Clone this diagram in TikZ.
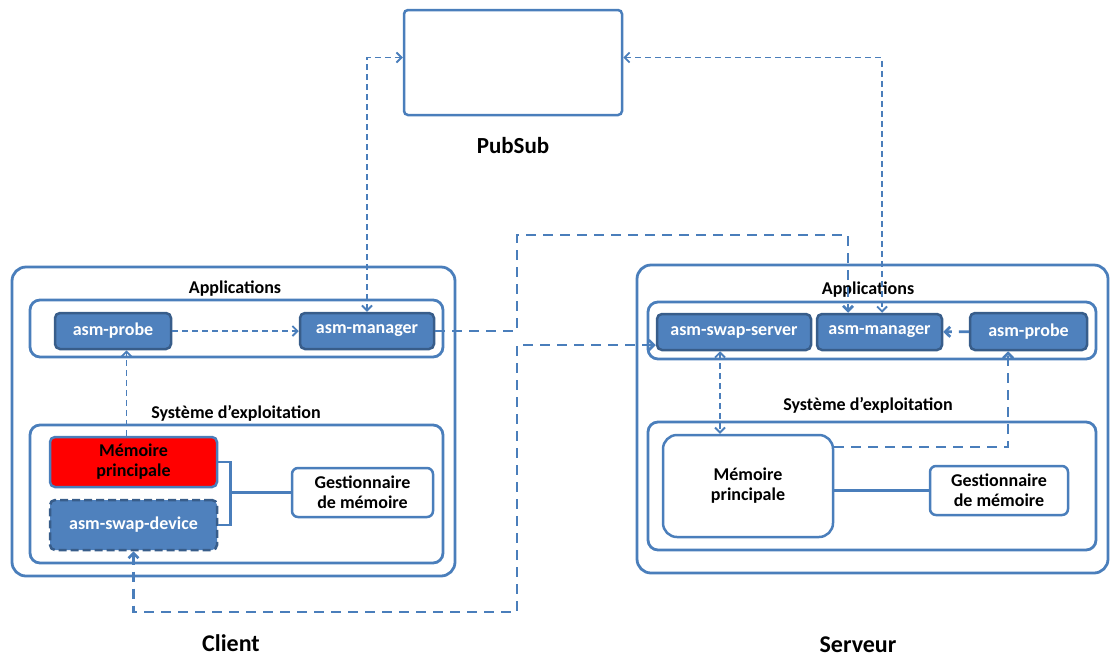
\documentclass[tikz,border=0pt]{standalone}
\usepackage{fontspec}
\setmainfont{Carlito}
\usetikzlibrary{arrows.meta}
\definecolor{lineblue}{RGB}{74,126,187}
\definecolor{modblue}{RGB}{79,129,189}
\definecolor{moddark}{RGB}{56,93,138}

\begin{document}
\begin{tikzpicture}[x=1pt,y=-1pt,
  every node/.style={font=\bfseries\fontsize{18}{20}\selectfont,align=center},
  frame/.style={draw=lineblue,line width=2.8pt,rounded corners=14pt,inner sep=0pt},
  layer/.style={draw=lineblue,line width=2.8pt,rounded corners=10pt,inner sep=0pt},
  module/.style={fill=modblue,draw=moddark,line width=2.5pt,rounded corners=5pt,text=white,inner sep=0pt},
  plainbox/.style={fill=white,draw=lineblue,line width=2.5pt,rounded corners=6pt,inner sep=0pt},
  wire/.style={draw=lineblue,line width=2.5pt},
  link/.style={draw=lineblue,line width=1.8pt,dash pattern=on 6pt off 4pt},
  flow/.style={draw=lineblue,line width=2.8pt,dash pattern=on 10pt off 7pt},
  tip/.style={arrows={-{Straight Barb[length=5pt,width=10pt]}}},
  tips/.style={arrows={{Straight Barb[length=5pt,width=10pt]}-{Straight Barb[length=5pt,width=10pt]}}}
]
\useasboundingbox (0,0) rectangle (1110,657);

\node [plainbox,rounded corners=4pt,minimum width=218pt,minimum height=105pt] (pubsub) at (513,62.5) {};
\node [font=\bfseries\fontsize{23}{25}\selectfont] (pubsublabel) at (513,146) {PubSub};

\node [frame,minimum width=443pt,minimum height=309pt] (client) at (233.5,421.5) {};
\node (capplabel) at (235,289) {Applications};
\node [layer,minimum width=413pt,minimum height=57pt] (capps) at (236.5,328.5) {};
\node [module,minimum width=116pt,minimum height=36pt] (cprobe) at (113,331) {asm-probe};
\node [module,minimum width=134pt,minimum height=36pt] (cmanager) at (367,331) {asm-manager};
\node (coslabel) at (236,413) {Système d'exploitation};
\node [layer,minimum width=413pt,minimum height=138pt] (cos) at (236.5,494) {};
\node [module,fill=red,draw=lineblue,text=black,minimum width=167pt,minimum height=50pt] (cmem) at (133.5,462) {Mémoire\\principale};
\node [module,dash pattern=on 8pt off 4pt,minimum width=167pt,minimum height=50pt] (cswap) at (133.5,525) {asm-swap-device};
\node [plainbox,minimum width=141pt,minimum height=49pt] (cgest) at (362.5,492.5) {Gestionnaire\\de mémoire};
\node [font=\bfseries\fontsize{24}{26}\selectfont] (clientlabel) at (231,643) {Client};

\node [frame,minimum width=471pt,minimum height=308pt] (server) at (872.5,419) {};
\node (sapplabel) at (868,290) {Applications};
\node [layer,minimum width=448pt,minimum height=57pt] (sapps) at (872,330.5) {};
\node [module,minimum width=154pt,minimum height=36pt] (sswap) at (734,332) {asm-swap-server};
\node [module,minimum width=125pt,minimum height=36pt] (smanager) at (879.5,332) {asm-manager};
\node [module,minimum width=117pt,minimum height=37pt] (sprobe) at (1028.5,331.5) {asm-probe};
\node (soslabel) at (868,405) {Système d'exploitation};
\node [layer,minimum width=448pt,minimum height=128pt] (sos) at (872,486) {};
\node [plainbox,rounded corners=14pt,minimum width=170pt,minimum height=102pt] (smem) at (748,486) {Mémoire\\principale};
\node [plainbox,minimum width=138pt,minimum height=49pt] (sgest) at (999,490.5) {Gestionnaire\\de mémoire};
\node [font=\bfseries\fontsize{24}{26}\selectfont] (serverlabel) at (858,645) {Serveur};

\coordinate (brk) at ([xshift=12pt]cmem.east);
\coordinate (up) at (517,235);
\coordinate (down) at (517,612);

\draw [wire] (cmem.east) -- (brk) |- (cswap.east);
\draw [wire] (cgest.west) -- (cgest.west -| brk);
\draw [wire] (sgest.west -| smem.east) -- (sgest.west);

\draw [link,tip] (cprobe) -- (cmanager);
\draw [link,tip] ([xshift=-7pt]cmem.north) -- ([xshift=-7pt]cmem.north |- cprobe.south);
\draw [link,tips] (cmanager.north) |- ([yshift=5pt]pubsub.west);
\draw [link,tips] ([yshift=5pt]pubsub.east) -| ([xshift=2.5pt]smanager.north);
\draw [link,tips] ([xshift=-14pt]sswap.south) -- ([xshift=-14pt]sswap.south |- smem.north);

\draw [flow,tip] (cmanager.east) -| (up) -| ([xshift=-31.5pt]smanager.north);
\draw [flow,tips] (cswap.south) |- (down) |- ([yshift=-13pt]sswap.west);
\draw [flow,tip] (smem.east |- 0,447) -| ([xshift=-20.5pt]sprobe.south);
\draw [flow,tip] (sprobe) -- (smanager);
\end{tikzpicture}
\end{document}
